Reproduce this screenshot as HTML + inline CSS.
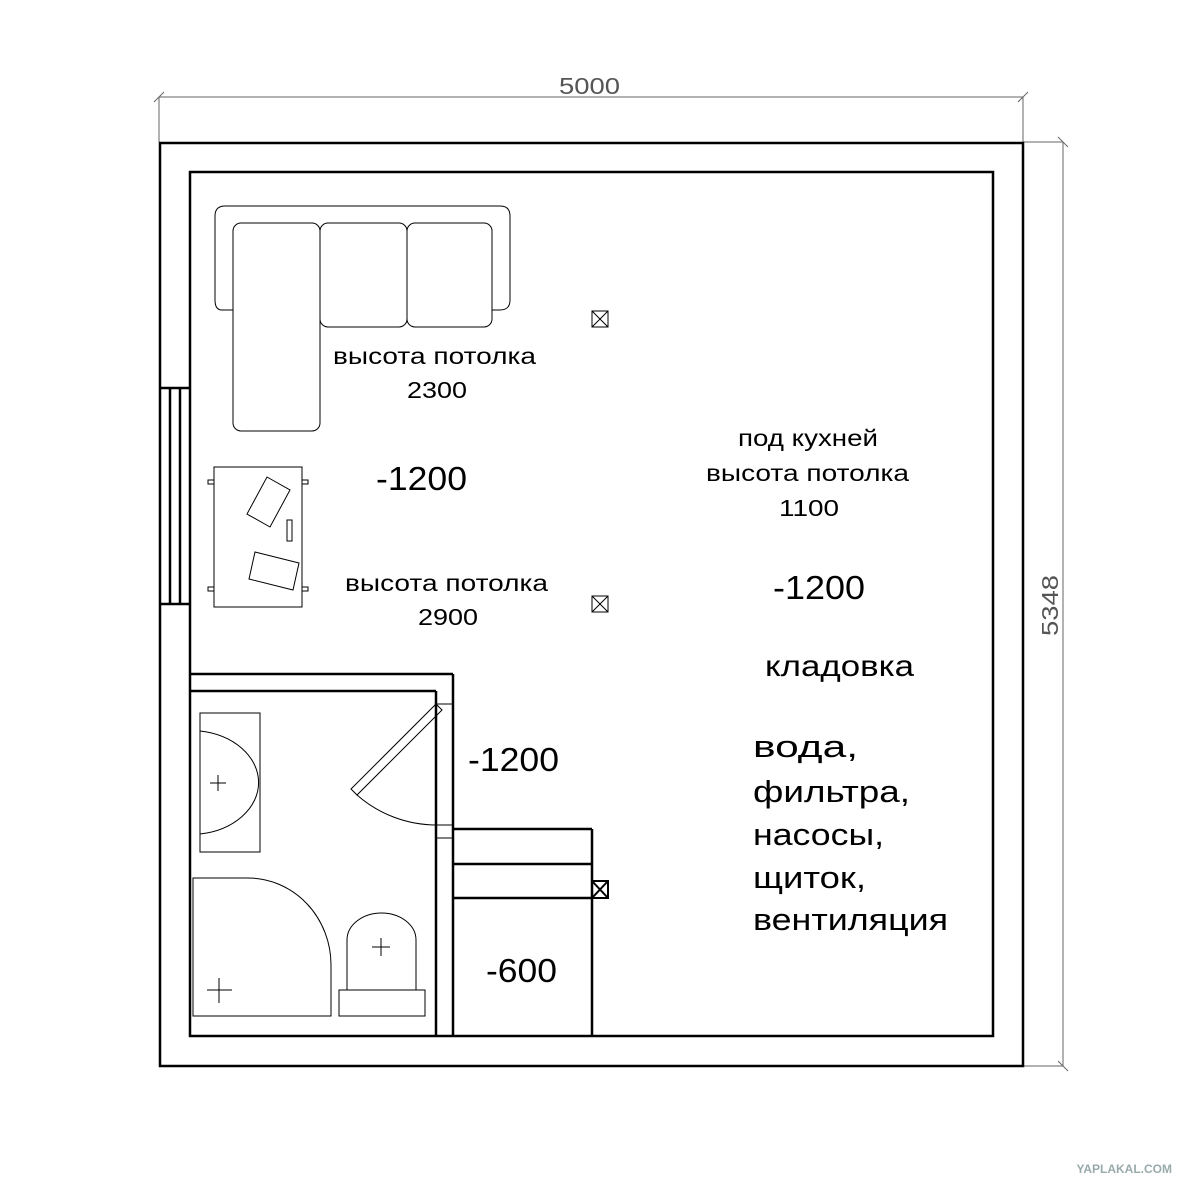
<!DOCTYPE html>
<html><head><meta charset="utf-8"><style>html,body{margin:0;padding:0;background:#fff}svg{display:block}</style></head>
<body>
<svg width="1200" height="1200" viewBox="0 0 1200 1200" xmlns="http://www.w3.org/2000/svg" font-family="Liberation Sans, DejaVu Sans, sans-serif">
<rect width="1200" height="1200" fill="#fff"/>
<g stroke="#666" stroke-width="1" fill="none">
<line x1="159" y1="97" x2="1023" y2="97"/>
<line x1="159" y1="97" x2="159" y2="142"/>
<line x1="1023" y1="97" x2="1023" y2="142"/>
<line x1="154" y1="102" x2="164" y2="92"/>
<line x1="1018" y1="102" x2="1028" y2="92"/>
<line x1="1063" y1="142" x2="1063" y2="1066"/>
<line x1="1023" y1="142" x2="1063" y2="142"/>
<line x1="1023" y1="1066" x2="1063" y2="1066"/>
<line x1="1058" y1="137" x2="1068" y2="147"/>
<line x1="1058" y1="1061" x2="1068" y2="1071"/>
</g>
<text x="559" y="94" font-size="23" fill="#555" textLength="61" lengthAdjust="spacingAndGlyphs">5000</text>
<text x="0" y="0" font-size="23" fill="#555" transform="translate(1058,636) rotate(-90)" textLength="61" lengthAdjust="spacingAndGlyphs">5348</text>
<g stroke="#000" stroke-width="2.5" fill="none">
<rect x="160" y="143" width="863" height="923"/>
<rect x="190" y="172" width="803" height="864"/>
<line x1="190" y1="674" x2="453" y2="674"/>
<line x1="190" y1="691" x2="436" y2="691"/>
<line x1="436" y1="691" x2="436" y2="1036"/>
<line x1="453" y1="674" x2="453" y2="1036"/>
<line x1="453" y1="829" x2="592" y2="829"/>
<line x1="453" y1="864" x2="592" y2="864"/>
<line x1="453" y1="898" x2="592" y2="898"/>
<line x1="592" y1="829" x2="592" y2="1036"/>
<line x1="160" y1="388" x2="190" y2="388"/>
<line x1="160" y1="604" x2="190" y2="604"/>
<line x1="170" y1="388" x2="170" y2="604"/>
<line x1="180" y1="388" x2="180" y2="604"/>
</g>
<g stroke="#000" stroke-width="1" fill="none">
<line x1="436" y1="704" x2="453" y2="704"/>
<line x1="436" y1="825" x2="453" y2="825"/>
<line x1="436" y1="838" x2="453" y2="838"/>
<polygon points="436,704 442,710 357,795 351,789"/>
<path d="M357,795 A121,121 0 0 0 436,825"/>
<rect x="200" y="713" width="60" height="139"/>
<path d="M200,731 A68,52 0 0 1 200,834"/>
<path d="M210,783 H226 M218,775 V791"/>
<path d="M193,878 H248 A83,87 0 0 1 331,965 V1016 H193 Z"/>
<path d="M207,990 H232 M219,978 V1003"/>
<rect x="339" y="990" width="86" height="26"/>
<path d="M347,990 V940 A34.5,27 0 0 1 416,940 V990"/>
<path d="M372,947 H390 M381,938 V956"/>
<path d="M233,310 H222 Q215,310 215,300 V216 Q215,206 225,206 H500 Q510,206 510,216 V300 Q510,310 500,310 H492"/>
<rect x="233" y="223" width="87" height="208" rx="8"/>
<rect x="320" y="223" width="87" height="104" rx="8"/>
<rect x="407" y="223" width="85" height="104" rx="8"/>
<rect x="214" y="467" width="88" height="140"/>
<polygon points="267,477 290,490 270,527 247,514"/>
<polygon points="255,552 299,563 293,590 249,579"/>
<rect x="287" y="520" width="5" height="21"/>
<path d="M214,484 h-6 v-4 h6 M302,484 h6 v-4 h-6 M214,591 h-6 v-4 h6 M302,591 h6 v-4 h-6"/>
<rect x="592" y="311" width="16" height="16"/><path d="M592,311 L608,327 M608,311 L592,327"/>
<rect x="592" y="596" width="16" height="16"/><path d="M592,596 L608,612 M608,596 L592,612"/>
</g>
<g stroke="#000" stroke-width="2" fill="none">
<rect x="592" y="881" width="16" height="17"/><path d="M592,881 L608,898 M608,881 L592,898"/>
</g>
<g fill="#000" lengthAdjust="spacingAndGlyphs">
<text x="333" y="364" font-size="23" textLength="203" lengthAdjust="spacingAndGlyphs">высота потолка</text>
<text x="407" y="398" font-size="23" textLength="60" lengthAdjust="spacingAndGlyphs">2300</text>
<text x="376" y="490" font-size="33" textLength="91" lengthAdjust="spacingAndGlyphs">-1200</text>
<text x="345" y="591" font-size="23" textLength="203" lengthAdjust="spacingAndGlyphs">высота потолка</text>
<text x="418" y="625" font-size="23" textLength="60" lengthAdjust="spacingAndGlyphs">2900</text>
<text x="738" y="446" font-size="23" textLength="140" lengthAdjust="spacingAndGlyphs">под кухней</text>
<text x="706" y="481" font-size="23" textLength="203" lengthAdjust="spacingAndGlyphs">высота потолка</text>
<text x="779" y="516" font-size="23" textLength="60" lengthAdjust="spacingAndGlyphs">1100</text>
<text x="773" y="599" font-size="33" textLength="92" lengthAdjust="spacingAndGlyphs">-1200</text>
<text x="765" y="676" font-size="30" textLength="149" lengthAdjust="spacingAndGlyphs">кладовка</text>
<text x="468" y="771" font-size="33" textLength="91" lengthAdjust="spacingAndGlyphs">-1200</text>
<text x="486" y="982" font-size="33" textLength="71" lengthAdjust="spacingAndGlyphs">-600</text>
<text x="753" y="757" font-size="31" textLength="105" lengthAdjust="spacingAndGlyphs">вода,</text>
<text x="753" y="802" font-size="31" textLength="157" lengthAdjust="spacingAndGlyphs">фильтра,</text>
<text x="753" y="845" font-size="31" textLength="131" lengthAdjust="spacingAndGlyphs">насосы,</text>
<text x="753" y="888" font-size="31" textLength="113" lengthAdjust="spacingAndGlyphs">щиток,</text>
<text x="753" y="930" font-size="31" textLength="195" lengthAdjust="spacingAndGlyphs">вентиляция</text>
</g>
<text x="1172" y="1173" font-size="12" font-weight="bold" fill="#9aa" text-anchor="end">YAPLAKAL.COM</text>
</svg>
</body></html>
